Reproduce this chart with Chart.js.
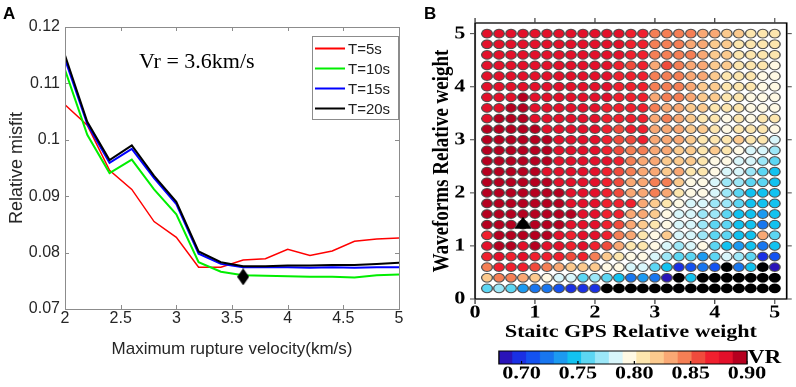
<!DOCTYPE html>
<html>
<head>
<meta charset="utf-8">
<script src="https://cdn.jsdelivr.net/npm/chart.js@4.4.1/dist/chart.umd.min.js"></script>
<style>
  html, body { margin: 0; padding: 0; background: #fff; }
  #page { position: relative; width: 796px; height: 387px; overflow: hidden; }
  #chartA { position: absolute; left: 0; top: 0; }
  #panelB { position: absolute; left: 400px; top: 0; width: 325px; height: 387px; transform: scaleX(1.22); transform-origin: 0 0; }
  #chartB { position: absolute; left: 0; top: 0; }
  #cbar { position: absolute; left: 50px; top: 345px; }
  .lbl { position: absolute; font-family: "Liberation Sans", Arial, sans-serif; font-weight: bold; font-size: 17px; line-height: 1; }
  #vrNote { position: absolute; left: 139px; top: 50px; font-family: "Liberation Serif", serif; font-size: 22px; line-height: 1; }
  #vrLbl { position: absolute; left: 285px; top: 347px; font-family: "Liberation Serif", serif; font-weight: bold; font-size: 19px; line-height: 1; }
</style>
</head>
<body>
<div id="page">
  <canvas id="chartA" width="410" height="387"></canvas>
  <div class="lbl" style="left:3px;top:5px">A</div>
  <div id="vrNote">Vr = 3.6km/s</div>
  <div id="panelB">
    <canvas id="chartB" width="325" height="387"></canvas>
    <canvas id="cbar" width="270" height="42"></canvas>
    <div id="vrLbl">VR</div>
  </div>
  <div class="lbl" style="left:424px;top:5px">B</div>
</div>
<script>
// ---------- panel A : misfit vs rupture velocity ----------
const velocity = [2.0, 2.2, 2.4, 2.6, 2.8, 3.0, 3.2, 3.4, 3.6, 3.8, 4.0, 4.2, 4.4, 4.6, 4.8, 5.0];
const misfitT5  = [0.1062, 0.1026, 0.0946, 0.0912, 0.0855, 0.0827, 0.0774, 0.0774, 0.0787, 0.0789, 0.0806, 0.0795, 0.0803, 0.0820, 0.0824, 0.0826];
const misfitT10 = [0.1124, 0.1009, 0.0941, 0.0965, 0.0912, 0.0868, 0.0783, 0.0766, 0.0760, 0.0759, 0.0758, 0.0757, 0.0757, 0.0756, 0.0760, 0.0761];
const misfitT15 = [0.1143, 0.1028, 0.0959, 0.0984, 0.0932, 0.0886, 0.0798, 0.0780, 0.0774, 0.0774, 0.0774, 0.0773, 0.0774, 0.0773, 0.0774, 0.0774];
const misfitT20 = [0.1150, 0.1032, 0.0964, 0.0990, 0.0936, 0.0890, 0.0802, 0.0783, 0.0776, 0.0776, 0.0777, 0.0777, 0.0778, 0.0778, 0.0780, 0.0782];
const seriesNames = ["T=5s", "T=10s", "T=15s", "T=20s"];
const bestVr = 3.6;
const bestMisfit = 0.0757;
const aXTicks = [2, 2.5, 3, 3.5, 4, 4.5, 5];
const aYTicks = [0.07, 0.08, 0.09, 0.1, 0.11, 0.12];

// ---------- panel B : VR grid ----------
const gpsWeights  = [0.2, 0.4, 0.6, 0.8, 1.0, 1.2, 1.4, 1.6, 1.8, 2.0, 2.2, 2.4, 2.6, 2.8, 3.0, 3.2, 3.4, 3.6, 3.8, 4.0, 4.2, 4.4, 4.6, 4.8, 5.0];
const waveWeights = [0.2, 0.4, 0.6, 0.8, 1.0, 1.2, 1.4, 1.6, 1.8, 2.0, 2.2, 2.4, 2.6, 2.8, 3.0, 3.2, 3.4, 3.6, 3.8, 4.0, 4.2, 4.4, 4.6, 4.8, 5.0];
const vr50 = [0.882,0.882,0.882,0.882,0.882,0.882,0.882,0.882,0.882,0.882,0.882,0.882,0.87,0.87,0.845,0.845,0.845,0.845,0.833,0.833,0.82,0.82,0.808,0.808,0.808];
const vr48 = [0.882,0.882,0.882,0.882,0.882,0.882,0.882,0.882,0.882,0.882,0.882,0.882,0.87,0.87,0.845,0.845,0.845,0.833,0.833,0.82,0.82,0.808,0.808,0.808,0.808];
const vr46 = [0.882,0.882,0.882,0.882,0.882,0.882,0.882,0.882,0.882,0.882,0.882,0.882,0.87,0.87,0.845,0.845,0.845,0.845,0.833,0.82,0.82,0.808,0.808,0.808,0.808];
const vr44 = [0.882,0.882,0.882,0.882,0.882,0.882,0.882,0.882,0.882,0.882,0.882,0.87,0.857,0.87,0.833,0.857,0.845,0.833,0.833,0.82,0.82,0.808,0.808,0.808,0.796];
const vr42 = [0.882,0.882,0.882,0.882,0.882,0.882,0.882,0.882,0.882,0.882,0.882,0.87,0.87,0.87,0.845,0.845,0.845,0.833,0.833,0.82,0.808,0.808,0.808,0.796,0.796];
const vr40 = [0.882,0.882,0.882,0.882,0.882,0.882,0.882,0.882,0.882,0.882,0.882,0.87,0.87,0.87,0.845,0.845,0.845,0.833,0.82,0.82,0.808,0.808,0.808,0.796,0.796];
const vr38 = [0.882,0.882,0.882,0.894,0.882,0.882,0.882,0.882,0.882,0.882,0.882,0.87,0.87,0.87,0.833,0.845,0.845,0.833,0.82,0.82,0.808,0.808,0.796,0.796,0.796];
const vr36 = [0.882,0.882,0.894,0.894,0.882,0.882,0.882,0.882,0.882,0.882,0.87,0.87,0.87,0.87,0.845,0.833,0.833,0.82,0.82,0.808,0.808,0.808,0.796,0.796,0.796];
const vr34 = [0.882,0.894,0.894,0.894,0.882,0.882,0.882,0.882,0.882,0.882,0.87,0.87,0.87,0.87,0.833,0.845,0.833,0.82,0.808,0.808,0.796,0.808,0.796,0.808,0.808];
const vr32 = [0.894,0.894,0.894,0.894,0.894,0.882,0.882,0.882,0.882,0.882,0.87,0.857,0.87,0.87,0.833,0.833,0.833,0.82,0.82,0.808,0.796,0.808,0.808,0.808,0.796];
const vr30 = [0.894,0.894,0.894,0.894,0.894,0.894,0.882,0.882,0.882,0.882,0.87,0.857,0.857,0.87,0.833,0.833,0.833,0.82,0.808,0.808,0.808,0.82,0.808,0.808,0.784];
const vr28 = [0.894,0.894,0.894,0.894,0.894,0.894,0.882,0.882,0.882,0.882,0.87,0.857,0.845,0.845,0.833,0.833,0.82,0.82,0.808,0.82,0.808,0.796,0.784,0.784,0.772];
const vr26 = [0.894,0.894,0.894,0.894,0.894,0.894,0.882,0.882,0.882,0.882,0.882,0.87,0.845,0.833,0.833,0.82,0.82,0.82,0.808,0.796,0.796,0.784,0.784,0.772,0.76];
const vr24 = [0.894,0.894,0.894,0.894,0.894,0.882,0.882,0.882,0.882,0.882,0.87,0.857,0.845,0.833,0.833,0.82,0.833,0.808,0.808,0.796,0.784,0.784,0.772,0.76,0.747];
const vr22 = [0.894,0.894,0.894,0.894,0.894,0.894,0.882,0.882,0.882,0.882,0.87,0.857,0.833,0.833,0.845,0.845,0.82,0.796,0.796,0.784,0.772,0.772,0.76,0.76,0.747];
const vr20 = [0.894,0.894,0.894,0.894,0.894,0.894,0.894,0.882,0.882,0.882,0.87,0.857,0.833,0.833,0.845,0.833,0.808,0.796,0.796,0.784,0.772,0.76,0.747,0.747,0.747];
const vr18 = [0.894,0.894,0.894,0.894,0.894,0.894,0.894,0.882,0.882,0.882,0.87,0.87,0.87,0.833,0.82,0.808,0.796,0.784,0.784,0.772,0.772,0.76,0.747,0.747,0.747];
const vr16 = [0.894,0.894,0.894,0.894,0.894,0.894,0.894,0.894,0.882,0.882,0.87,0.87,0.833,0.833,0.82,0.796,0.784,0.784,0.772,0.772,0.76,0.747,0.747,0.735,0.747];
const vr14 = [0.894,0.894,0.894,0.894,0.894,0.894,0.894,0.882,0.882,0.882,0.87,0.857,0.833,0.82,0.808,0.796,0.784,0.784,0.772,0.76,0.76,0.747,0.747,0.723,0.747];
const vr12 = [0.87,0.894,0.894,0.894,0.894,0.894,0.882,0.87,0.882,0.882,0.87,0.845,0.833,0.808,0.796,0.82,0.784,0.784,0.772,0.76,0.76,0.747,0.747,0.833,0.76];
const vr10 = [0.882,0.894,0.894,0.882,0.894,0.882,0.882,0.87,0.882,0.87,0.857,0.833,0.808,0.808,0.796,0.784,0.772,0.784,0.796,0.76,0.747,0.735,0.747,0.723,0.747];
const vr08 = [0.87,0.882,0.87,0.882,0.87,0.87,0.87,0.857,0.87,0.845,0.82,0.808,0.796,0.796,0.784,0.772,0.76,0.76,0.735,0.76,0.784,0.772,0.76,0.698,0.71];
const vr06 = [0.845,0.87,0.87,0.87,0.857,0.845,0.833,0.82,0.82,0.82,0.796,0.796,0.784,0.784,0.76,0.747,0.698,0.71,0.723,0.71,0.66,0.723,0.747,0.66,0.686];
const vr04 = [0.82,0.845,0.845,0.833,0.82,0.796,0.784,0.784,0.76,0.772,0.76,0.747,0.723,0.735,0.723,0.686,0.66,0.747,0.66,0.66,0.66,0.66,0.66,0.66,0.66];
const vr02 = [0.76,0.772,0.76,0.735,0.723,0.723,0.71,0.698,0.698,0.698,0.66,0.66,0.66,0.66,0.66,0.66,0.66,0.66,0.66,0.66,0.66,0.66,0.66,0.66,0.66];
const vrRows = [vr02, vr04, vr06, vr08, vr10, vr12, vr14, vr16, vr18, vr20, vr22, vr24, vr26, vr28, vr30, vr32, vr34, vr36, vr38, vr40, vr42, vr44, vr46, vr48, vr50];
const bestGps = 0.8;
const bestWave = 1.4;
const bTicks = [0, 1, 2, 3, 4, 5];

// colour scale
const cbMin = 0.68;
const cbMax = 0.90;
const cbTicks = [0.70, 0.75, 0.80, 0.85, 0.90];
const cbColors = ["#2a14b8", "#1a30e4", "#1452f0", "#1876ef", "#1c9af1", "#12c2f0", "#5cd6f3", "#9ce7f8",
                  "#d8f6fb", "#fff9e4", "#fde6ae", "#fcca8e", "#f9a874", "#f57f55", "#f04b3c", "#f0202e", "#e3102a", "#b5001f"];

function vrColor(v) {
  if (v < cbMin) return "#000000";
  const k = Math.min(cbColors.length - 1, Math.floor((v - cbMin) / (cbMax - cbMin) * cbColors.length));
  return cbColors[k];
}

//---------------------------------------------
// panel A
//---------------------------------------------
const diamond = document.createElement("canvas");
diamond.width = 12;
diamond.height = 17;
const dctx = diamond.getContext("2d");
dctx.beginPath();
dctx.moveTo(6, 0); dctx.lineTo(12, 8.5); dctx.lineTo(6, 17); dctx.lineTo(0, 8.5);
dctx.closePath();
dctx.fillStyle = "#000";
dctx.fill();

function toXY(vals) {
  return velocity.map((v, i) => ({ x: v, y: vals[i] }));
}

const sansA = '"Liberation Sans", Arial, sans-serif';

const boxA = {
  id: "boxA",
  afterDraw(chart) {
    const { ctx, chartArea: a, scales: { x, y } } = chart;
    ctx.save();
    ctx.strokeStyle = "#8c8c8c";
    ctx.lineWidth = 1;
    ctx.strokeRect(a.left + 0.5, a.top + 0.5, a.right - a.left, a.bottom - a.top);
    ctx.beginPath();
    x.ticks.forEach(t => {
      const px = Math.round(x.getPixelForValue(t.value)) + 0.5;
      ctx.moveTo(px, a.bottom); ctx.lineTo(px, a.bottom - 4);
      ctx.moveTo(px, a.top); ctx.lineTo(px, a.top + 4);
    });
    y.ticks.forEach(t => {
      const py = Math.round(y.getPixelForValue(t.value)) + 0.5;
      ctx.moveTo(a.left, py); ctx.lineTo(a.left + 4, py);
      ctx.moveTo(a.right, py); ctx.lineTo(a.right - 4, py);
    });
    ctx.stroke();

    // legend box
    ctx.fillStyle = "#fff";
    ctx.fillRect(312.5, 36.5, 86, 83);
    ctx.strokeRect(312.5, 36.5, 86, 83);
    const items = chart.data.datasets.filter(d => d.inLegend);
    ctx.font = "15px " + sansA;
    ctx.textBaseline = "middle";
    items.forEach((d, i) => {
      const yy = 48.5 + i * 20;
      ctx.strokeStyle = d.borderColor;
      ctx.lineWidth = 2;
      ctx.beginPath();
      ctx.moveTo(315, yy); ctx.lineTo(345, yy);
      ctx.stroke();
      ctx.fillStyle = "#222";
      ctx.fillText(d.label, 348, yy + 1);
    });
    ctx.restore();
  }
};

new Chart(document.getElementById("chartA"), {
  type: "scatter",
  data: {
    datasets: [
      { label: "best", data: [{ x: bestVr, y: bestMisfit }], pointStyle: diamond, pointRadius: 8, order: 0 },
      { label: seriesNames[0], data: toXY(misfitT5), showLine: true, borderColor: "#ff0000", borderWidth: 1.5, pointRadius: 0, order: 4, inLegend: true },
      { label: seriesNames[1], data: toXY(misfitT10), showLine: true, borderColor: "#00ee00", borderWidth: 2, pointRadius: 0, order: 3, inLegend: true },
      { label: seriesNames[2], data: toXY(misfitT15), showLine: true, borderColor: "#0000ff", borderWidth: 2, pointRadius: 0, order: 2, inLegend: true },
      { label: seriesNames[3], data: toXY(misfitT20), showLine: true, borderColor: "#000000", borderWidth: 2, pointRadius: 0, order: 1, inLegend: true }
    ]
  },
  options: {
    responsive: false,
    animation: false,
    layout: { padding: { top: 27, right: 11, left: 0, bottom: 0 } },
    plugins: { legend: { display: false }, tooltip: { enabled: false } },
    scales: {
      x: {
        type: "linear", min: 2, max: 5,
        afterBuildTicks: s => { s.ticks = aXTicks.map(v => ({ value: v })); },
        afterFit: s => { s.height = 78; },
        grid: { display: false, drawTicks: false },
        border: { display: false },
        ticks: { font: { family: sansA, size: 16, lineHeight: 1 }, color: "#262626", padding: 2, maxRotation: 0, autoSkip: false, callback: v => String(v) },
        title: { display: true, text: "Maximum rupture velocity(km/s)", font: { family: sansA, size: 17 }, color: "#262626", padding: { top: 0, bottom: 27 } }
      },
      y: {
        type: "linear", min: 0.07, max: 0.12,
        afterBuildTicks: s => { s.ticks = aYTicks.map(v => ({ value: v })); },
        afterFit: s => { s.width = 65; },
        grid: { display: false, drawTicks: false },
        border: { display: false },
        ticks: { font: { family: sansA, size: 16 }, color: "#262626", padding: 5, callback: v => String(+v.toFixed(2)) },
        title: { display: true, text: "Relative misfit", font: { family: sansA, size: 18 }, color: "#262626", padding: { top: 6, bottom: 0 } }
      }
    }
  },
  plugins: [boxA]
});

//---------------------------------------------
// panel B
//---------------------------------------------
const serif = '"Liberation Serif", "Times New Roman", serif';

const cells = [];
waveWeights.forEach((w, r) => {
  gpsWeights.forEach((g, c) => {
    cells.push({ x: g, y: w, v: vrRows[r][c] });
  });
});

const boxB = {
  id: "boxB",
  afterDraw(chart) {
    const { ctx, chartArea: a, scales: { x, y } } = chart;
    ctx.save();
    ctx.strokeStyle = "#000";
    ctx.lineWidth = 1.3;
    ctx.strokeRect(a.left, a.top, a.right - a.left, a.bottom - a.top);
    ctx.lineWidth = 1;
    ctx.strokeStyle = "#444";
    ctx.beginPath();
    x.ticks.forEach(t => {
      const px = x.getPixelForValue(t.value);
      ctx.moveTo(px, a.top); ctx.lineTo(px, a.top - 5);
      ctx.moveTo(px, a.bottom); ctx.lineTo(px, a.bottom + 5);
    });
    y.ticks.forEach(t => {
      const py = y.getPixelForValue(t.value);
      ctx.moveTo(a.left, py); ctx.lineTo(a.left - 4, py);
      ctx.moveTo(a.right, py); ctx.lineTo(a.right + 4, py);
    });
    ctx.stroke();
    ctx.restore();
  }
};

new Chart(document.getElementById("chartB"), {
  type: "scatter",
  data: {
    datasets: [
      { label: "best", data: [{ x: bestGps, y: bestWave }], pointStyle: "triangle", pointRadius: 7, backgroundColor: "#000", borderColor: "#000", borderWidth: 1 },
      {
        label: "VR", data: cells, pointRadius: 4.4, borderWidth: 1,
        backgroundColor: c => vrColor(c.raw.v),
        borderColor: c => (c.raw.v < cbMin ? "#000" : "#505050")
      }
    ]
  },
  options: {
    responsive: false,
    animation: false,
    devicePixelRatio: 2,
    layout: { padding: { top: 23, right: 6, left: 0, bottom: 0 } },
    plugins: { legend: { display: false }, tooltip: { enabled: false } },
    scales: {
      x: {
        type: "linear", min: 0, max: 5.2,
        afterBuildTicks: s => { s.ticks = bTicks.map(v => ({ value: v })); },
        afterFit: s => { s.height = 88; },
        grid: { display: false, drawTicks: false },
        border: { display: false },
        ticks: { font: { family: serif, size: 18, weight: "bold", lineHeight: 1 }, color: "#000", padding: 5, maxRotation: 0, autoSkip: false, callback: v => String(v) },
        title: { display: true, text: "Staitc GPS Relative weight", font: { family: serif, size: 18, weight: "bold" }, color: "#000", padding: { top: 0, bottom: 44 } }
      },
      y: {
        type: "linear", min: 0, max: 5.2,
        afterBuildTicks: s => { s.ticks = bTicks.map(v => ({ value: v })); },
        afterFit: s => { s.width = 61.5; },
        grid: { display: false, drawTicks: false },
        border: { display: false },
        ticks: { font: { family: serif, size: 18, weight: "bold" }, color: "#000", padding: 8, callback: v => String(v) },
        title: { display: true, text: "Waveforms Relative weight", font: { family: serif, size: 19, weight: "bold" }, color: "#000", padding: { top: 23, bottom: 0 } }
      }
    }
  },
  plugins: [boxB]
});

//---------------------------------------------
// colour bar
//---------------------------------------------
const cbStep = (cbMax - cbMin) / cbColors.length;

const boxCb = {
  id: "boxCb",
  afterDraw(chart) {
    const { ctx, chartArea: a, scales: { x } } = chart;
    ctx.save();
    ctx.strokeStyle = "#000";
    ctx.lineWidth = 1;
    ctx.strokeRect(a.left, a.top, a.right - a.left, a.bottom - a.top);
    ctx.beginPath();
    x.ticks.forEach(t => {
      const px = x.getPixelForValue(t.value);
      ctx.moveTo(px, a.bottom); ctx.lineTo(px, a.bottom - 3);
    });
    ctx.stroke();
    ctx.restore();
  }
};

new Chart(document.getElementById("cbar"), {
  type: "bar",
  data: {
    labels: ["VR"],
    datasets: [{
      data: cbColors.map((c, i) => ({ x: [cbMin + i * cbStep, cbMin + (i + 1) * cbStep], y: "VR" })),
      backgroundColor: cbColors,
      borderWidth: 0,
      barPercentage: 1,
      categoryPercentage: 1,
      barThickness: 13
    }]
  },
  options: {
    indexAxis: "y",
    responsive: false,
    animation: false,
    devicePixelRatio: 2,
    layout: { padding: { top: 6, right: 35.6, left: 31.1, bottom: 0 } },
    plugins: { legend: { display: false }, tooltip: { enabled: false } },
    scales: {
      x: {
        type: "linear", min: cbMin, max: cbMax,
        afterBuildTicks: s => { s.ticks = cbTicks.map(v => ({ value: v })); },
        afterFit: s => { s.height = 23; },
        grid: { display: false, drawTicks: false },
        border: { display: false },
        ticks: { font: { family: serif, size: 18, weight: "bold", lineHeight: 1 }, color: "#000", padding: 1, maxRotation: 0, autoSkip: false, callback: v => v.toFixed(2) }
      },
      y: { display: false }
    }
  },
  plugins: [boxCb]
});
</script>
</body>
</html>
